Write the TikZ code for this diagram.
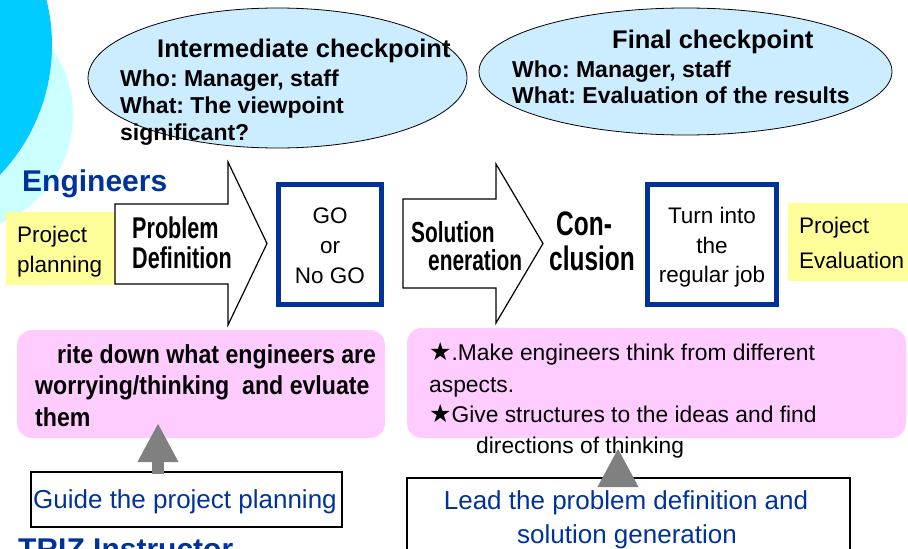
\documentclass[tikz,border=0pt]{standalone}
\usepackage{fontspec}
\usetikzlibrary{shapes.geometric,arrows.meta}
\setmainfont{Liberation Sans}
\newfontfamily\condfont[FakeStretch=0.72]{Liberation Sans}
\newfontfamily\gothfont[FakeStretch=0.89]{Liberation Sans}
\newfontfamily\starfont{DejaVu Sans}
\newcommand\setfs[1]{\fontsize{#1}{#1}\selectfont}
\newcommand\bigstar{{\starfont\setfs{25}★}}
\frenchspacing

\definecolor{skycyan}{RGB}{0,204,255}
\definecolor{palecyan}{RGB}{204,255,255}
\definecolor{bubble}{RGB}{204,236,255}
\definecolor{navy}{RGB}{0,51,153}
\definecolor{lemon}{RGB}{255,255,153}
\definecolor{orchid}{RGB}{255,204,255}
\definecolor{arrowgray}{RGB}{128,128,128}

\begin{document}
\frenchspacing
\begin{tikzpicture}[x=1pt,y=-1pt,
  txt/.style={inner sep=0pt, anchor=base west},
  ctxt/.style={inner sep=0pt, anchor=base},
  bubblebox/.style={ellipse, draw=black, line width=0.8pt, fill=bubble, inner sep=0pt},
  note/.style={fill=lemon, inner sep=0pt},
  pinkbox/.style={fill=orchid, rounded corners=15pt, inner sep=0pt},
  bluebox/.style={draw=navy, line width=5pt, fill=white, inner sep=0pt},
  thinbox/.style={draw=black, line width=1.5pt, fill=white, inner sep=0pt},
  blockarrow/.style={draw=black, line width=1.2pt, fill=white, line join=miter},
  bigup/.style={draw=arrowgray, line width=12pt, -{Triangle[width=38pt,length=39pt]}},
  headfont/.style={font=\bfseries\setfs{25.5}},
  linefont/.style={font=\bfseries\setfs{23}},
  plain/.style={font=\setfs{22.5}},
  steplabel/.style={font=\condfont\bfseries\setfs{30}},
  pinkfont/.style={font=\gothfont\bfseries\setfs{26}},
  notefont/.style={font=\setfs{22.8}},
  rolefont/.style={font=\bfseries\setfs{30}, text=navy},
  guidefont/.style={font=\setfs{26}, text=navy}]

\useasboundingbox (0,0) rectangle (908,549);
\clip (0,0) rectangle (908,549);

% decorative circles in the corner
\fill[palecyan] (-44,115) circle[radius=117pt];
\fill[skycyan] (-136,45) circle[radius=188pt];

% checkpoint bubbles
\node[bubblebox, minimum width=379pt, minimum height=140pt] (midcheck) at (277.5,78) {};
\node[txt, headfont] (midtitle) at (157,57) {Intermediate checkpoint};
\node[txt, linefont] (midwho) at (120,86) {Who: Manager, staff};
\node[txt, linefont] (midwhat) at (120,113) {What: The viewpoint};
\node[txt, linefont] (midwhat2) at (120,140) {significant?};

\node[bubblebox, minimum width=413pt, minimum height=127pt] (finalcheck) at (685.5,71.5) {};
\node[txt, headfont] (fintitle) at (612,48) {Final checkpoint};
\node[txt, linefont] (finwho) at (512,77) {Who: Manager, staff};
\node[txt, linefont] (finwhat) at (512,103) {What: Evaluation of the results};

% engineers' row
\node[txt, rolefont] (engineers) at (22,191) {Engineers};

\node[note, minimum width=109pt, minimum height=73pt] (planning) at (60.5,248.5) {};
\node[txt, plain] (planA) at (17,242) {Project};
\node[txt, plain] (planB) at (17,272) {planning};

\draw[blockarrow] (115,204) -- (228,204) -- (228,162) -- (267,243.5)
  -- (228,325) -- (228,284) -- (115,284) -- cycle;
\node[txt, steplabel] (probA) at (132,238) {Problem};
\node[txt, steplabel] (probB) at (132,268) {Definition};

\node[bluebox, minimum width=103pt, minimum height=120pt] (gobox) at (330,244.5) {};
\node[ctxt, plain] (goA) at (330,223) {GO};
\node[ctxt, plain] (goB) at (330,253) {or};
\node[ctxt, plain] (goC) at (330,283) {No GO};

\draw[blockarrow] (403,199) -- (496,199) -- (496,164) -- (543,243.5)
  -- (496,323) -- (496,288) -- (403,288) -- cycle;
\node[txt, steplabel, font=\condfont\bfseries\setfs{29}] (solA) at (411,242) {Solution};
\node[txt, steplabel, font=\condfont\bfseries\setfs{29}] (solB) at (428,270) {eneration};

\node[txt, steplabel, font=\condfont\bfseries\setfs{34}] (conA) at (556,235) {Con-};
\node[txt, steplabel, font=\condfont\bfseries\setfs{34}] (conB) at (549,270) {clusion};

\node[bluebox, minimum width=129pt, minimum height=120pt] (jobbox) at (712,244.5) {};
\node[ctxt, plain] (jobA) at (712,223) {Turn into};
\node[ctxt, plain] (jobB) at (712,253) {the};
\node[ctxt, plain] (jobC) at (712,282) {regular job};

\node[note, minimum width=120pt, minimum height=78pt] (evaluation) at (848,242) {};
\node[txt, plain] (evalA) at (799,233) {Project};
\node[txt, plain] (evalB) at (799,268) {Evaluation};

% activity boxes
\node[pinkbox, minimum width=368pt, minimum height=108pt] (pinkL) at (201,384) {};
\node[txt, pinkfont] (pinkLA) at (57,363) {rite down what engineers are};
\node[txt, pinkfont] (pinkLB) at (35,394) {worrying/thinking\ \ and evluate};
\node[txt, pinkfont] (pinkLC) at (35,426) {them};

\node[pinkbox, minimum width=499pt, minimum height=110pt] (pinkR) at (656.5,383) {};
\node[txt, notefont] (pinkRA) at (429,360) {\bigstar.Make engineers think from different};
\node[txt, notefont] (pinkRB) at (429,392) {aspects.};
\node[txt, notefont] (pinkRC) at (429,422) {\bigstar Give structures to the ideas and find};
\node[txt, notefont] (pinkRD) at (476,453) {directions of thinking};

% instructor row
\node[thinbox, minimum width=311pt, minimum height=55pt] (guide) at (186.5,499.5) {};
\node[txt, guidefont] (guideT) at (33,508) {Guide the project planning};

\node[thinbox, minimum width=443pt, minimum height=90pt] (lead) at (628.5,523) {};
\node[ctxt, guidefont] (leadA) at (626,509) {Lead the problem definition and};
\node[ctxt, guidefont] (leadB) at (627,543) {solution generation};

\node[txt, rolefont] (triz) at (18,559) {TRIZ Instructor};

% support arrows from the instructor boxes up to the activities
\coordinate (tipL) at (158,423);
\coordinate (tipR) at (618,448);
\draw[bigup] ([yshift=-3pt]guide.north -| tipL) -- (tipL);
\draw[bigup] ([yshift=-4pt]lead.north -| tipR) -- (tipR);

\end{tikzpicture}
\end{document}
